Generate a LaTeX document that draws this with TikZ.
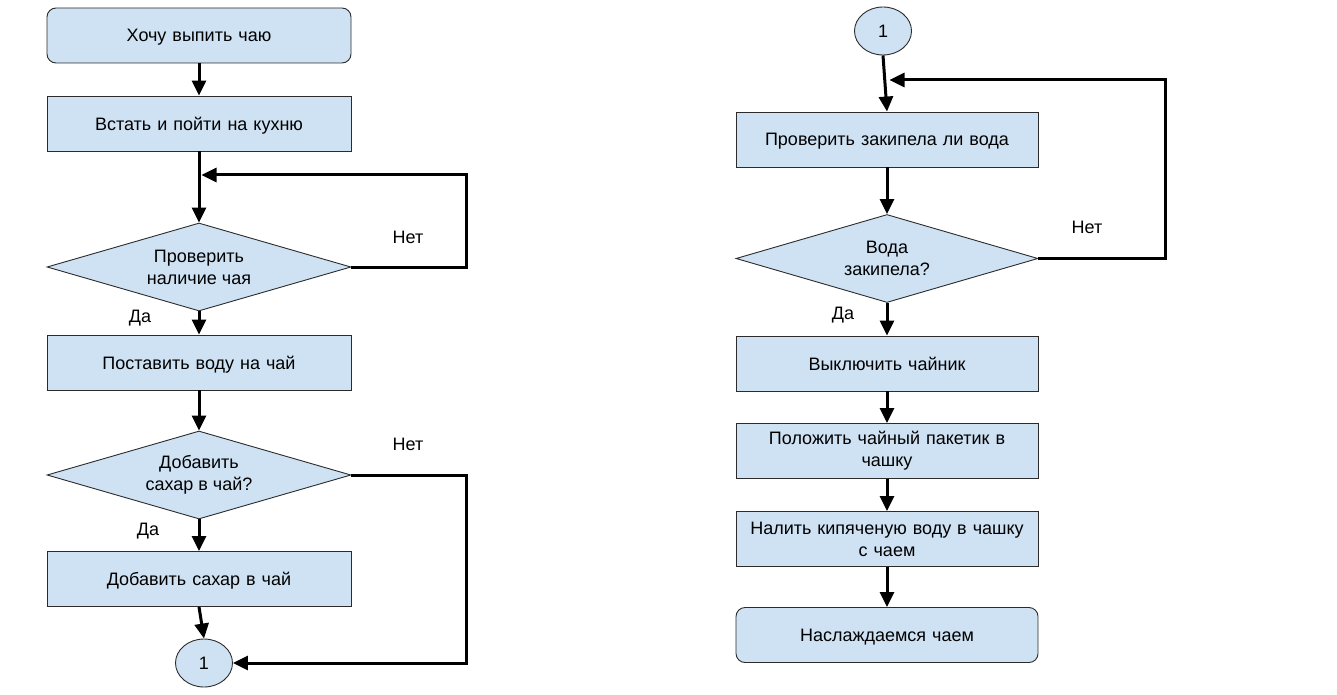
\documentclass[tikz,border=0pt]{standalone}
\usepackage{fontspec}
\setmainfont{Liberation Sans}
\usetikzlibrary{shapes.geometric,arrows.meta,calc}
\definecolor{fillb}{HTML}{CFE2F3}
\definecolor{edge}{HTML}{2B2B2B}
\begin{document}
\begin{tikzpicture}[x=1pt,y=-1pt,font=\fontsize{18}{22}\selectfont,
  box/.style={draw=edge,fill=fillb,line width=0.9pt,minimum width=304pt,minimum height=55pt,
    align=center,text width=300pt,inner sep=0pt},
  one/.style={text depth=0pt},
  rbox/.style={box,rounded corners=9pt},
  dec/.style={draw=edge,fill=fillb,diamond,line width=0.9pt,minimum width=304pt,
    minimum height=88pt,align=center,inner sep=0pt,aspect=3.45},
  conn/.style={ellipse,draw=edge,fill=fillb,line width=0.9pt,minimum width=57pt,minimum height=48pt,inner sep=0pt},
  arr/.style={line width=3pt,-{Triangle[length=15pt,width=14pt]}},
  lbl/.style={inner sep=0pt}]
\useasboundingbox (0,0) rectangle (1337,695);
% left column
\node[rbox,one] (s) at (199,35.5) {Хочу выпить чаю};
\node[box,one] (b1) at (199,123.5) {Встать и пойти на кухню};
\node[dec] (d1) at (199,267) {Проверить\\наличие чая};
\node[box,one] (b2) at (199,362.5) {Поставить воду на чай};
\node[dec] (d2) at (199,475) {Добавить\\сахар в чай?};
\node[box,one] (b3) at (199,579) {Добавить сахар в чай};
\node[conn] (c1) at (204,663) {1};
\coordinate (m1) at (201.5,175);
\coordinate (k1) at (466,175);
\coordinate (k2) at (466,663);
\node[lbl] (n1) at (408,237) {Нет};
\node[lbl] (y1) at (140,318) {Да};
\node[lbl] (n2) at (408,444) {Нет};
\node[lbl] (y2) at (148,531) {Да};
% right column
\node[conn] (c2) at (883,31) {1};
\node[box,one,minimum width=302pt] (r1) at (887,139.5) {Проверить закипела ли вода};
\node[dec,minimum width=302pt] (rd) at (887,258.5) {Вода\\закипела?};
\node[box,one,minimum width=302pt] (r2) at (887,363.5) {Выключить чайник};
\node[box,minimum width=302pt] (r3) at (887,451) {Положить чайный пакетик в\\чашку};
\node[box,minimum width=302pt] (r4) at (887,539) {Налить кипяченую воду в чашку\\с чаем};
\node[rbox,one,minimum width=302pt] (r5) at (887,635) {Наслаждаемся чаем};
\coordinate (m2) at (889.5,80);
\coordinate (k3) at (1165,80);
\node[lbl] (n3) at (1087,227) {Нет};
\node[lbl] (y3) at (843,315) {Да};
% connectors
\draw[arr] (s) -- (b1);
\draw[arr] (b1) -- (d1);
\draw[arr] (d1.east) -| (k1) -- (m1);
\draw[arr] (d1) -- (b2);
\draw[arr] (b2) -- (d2);
\draw[arr] (d2) -- (b3);
\draw[arr] (b3.south) -- (c1.north);
\draw[arr] (d2.east) -| (k2) -- (c1.east);
\draw[arr] (c2.south) -- (r1.north);
\draw[arr] (rd.east) -| (k3) -- (m2);
\draw[arr] (r1) -- (rd);
\draw[arr] (rd) -- (r2);
\draw[arr] (r2) -- (r3);
\draw[arr] (r3) -- (r4);
\draw[arr] (r4) -- (r5);
\end{tikzpicture}
\end{document}
